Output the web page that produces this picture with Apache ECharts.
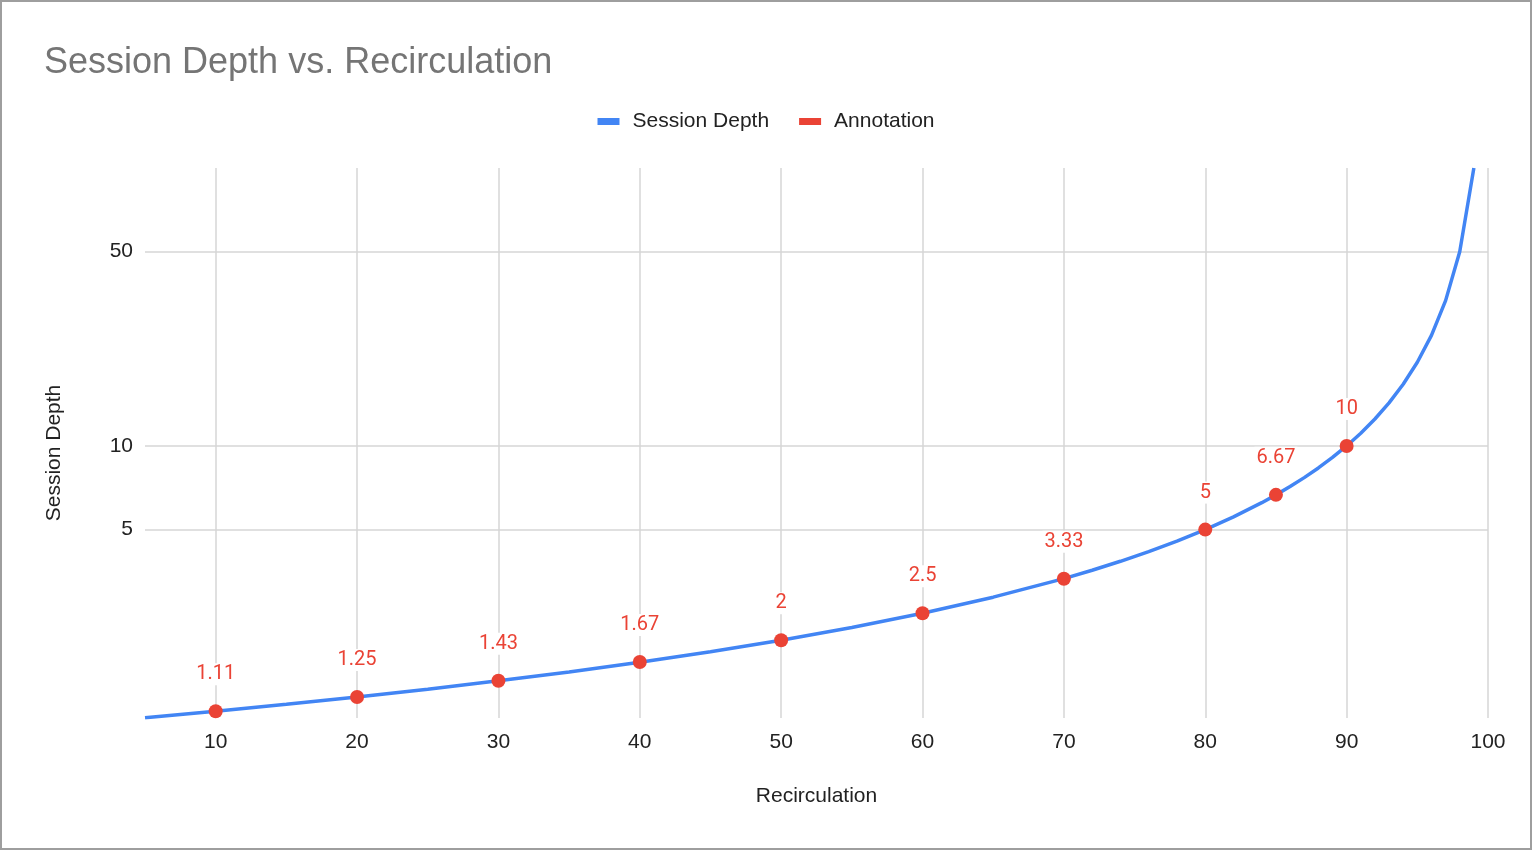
<!DOCTYPE html>
<html>
<head>
<meta charset="utf-8">
<script src="https://cdn.jsdelivr.net/npm/echarts@6/dist/echarts.min.js"></script>
<style>
  html, body { margin: 0; padding: 0; background: #fff; }
  #main { position: absolute; left: 0; top: 0; width: 1532px; height: 850px; }
  #frame { position: absolute; left: 0; top: 0; width: 1532px; height: 850px; box-sizing: border-box; border: 2px solid #9e9e9e; pointer-events: none; }
</style>
</head>
<body>
<div id="main"></div>
<div id="frame"></div>
<script>
// curve points (recirculation %, session depth)
var recirculation = [5, 10, 15, 20, 25, 30, 35, 40, 45, 50, 55, 60, 65, 70, 72, 74, 76, 78, 80, 82, 84, 85, 86, 87, 88, 89, 90, 91, 92, 93, 94, 95, 96, 97, 98, 99];
var sessionDepth = [1.053, 1.111, 1.176, 1.25, 1.333, 1.429, 1.538, 1.667, 1.818, 2, 2.222, 2.5, 2.857, 3.333, 3.571, 3.846, 4.167, 4.545, 5, 5.556, 6.25, 6.667, 7.143, 7.692, 8.333, 9.091, 10, 11.11, 12.5, 14.29, 16.67, 20, 25, 33.33, 50, 100];

// annotated points
var annotX = [10, 20, 30, 40, 50, 60, 70, 80, 85, 90];
var annotY = [1.11, 1.25, 1.43, 1.67, 2, 2.5, 3.33, 5, 6.67, 10];

// tick labels
var xTicks = [10, 20, 30, 40, 50, 60, 70, 80, 90, 100];
var yTicks = [5, 10, 50];

var lineData = [];
for (var i = 0; i < recirculation.length; i++) {
    lineData.push([recirculation[i], sessionDepth[i]]);
}
var annotData = [];
for (var j = 0; j < annotX.length; j++) {
    annotData.push([annotX[j], annotY[j]]);
}

var font = "'Liberation Sans', Arial, sans-serif";
var myChart = echarts.init(document.getElementById('main'));
var options = {
    backgroundColor: '#fff',
    animation: false,
    title: {
        text: 'Session Depth vs. Recirculation',
        left: 39,
        top: 40,
        textStyle: { fontFamily: font, fontSize: 36, fontWeight: 'normal', color: '#757575' }
    },
    legend: {
        top: 106,
        left: 'center',
        itemWidth: 22,
        itemHeight: 7,
        itemGap: 30,
        icon: 'rect',
        textStyle: { fontFamily: font, fontSize: 21, color: '#222', padding: [0, 0, 0, 8] },
        data: ['Session Depth', 'Annotation']
    },
    grid: { left: 145, right: 44, top: 168, bottom: 132 },
    xAxis: {
        type: 'value',
        min: 5,
        max: 100,
        name: 'Recirculation',
        nameLocation: 'middle',
        nameGap: 68,
        nameTextStyle: { fontFamily: font, fontSize: 21, color: '#222' },
        axisLine: { show: false },
        axisTick: { show: false, customValues: xTicks },
        axisLabel: { customValues: xTicks, margin: 14, fontFamily: font, fontSize: 21, color: '#222' },
        splitLine: { show: true, lineStyle: { color: '#d6d6d6', width: 1.5 } }
    },
    yAxis: {
        type: 'log',
        logBase: 10,
        min: 1.05,
        max: 100,
        name: 'Session Depth',
        nameLocation: 'middle',
        nameGap: 80,
        nameTextStyle: { fontFamily: font, fontSize: 21, color: '#222', padding: [0, 20, 0, 0] },
        axisLine: { show: false },
        axisTick: { show: false, customValues: yTicks },
        axisLabel: { customValues: yTicks, margin: 12, fontFamily: font, fontSize: 21, color: '#222' },
        splitLine: { show: true, lineStyle: { color: '#d6d6d6', width: 1.5 } }
    },
    series: [{
        name: 'Session Depth',
        type: 'line',
        data: lineData,
        showSymbol: false,
        symbol: 'none',
        color: '#4285f4',
        lineStyle: { width: 3.5, color: '#4285f4' },
        z: 2
    }, {
        name: 'Annotation',
        type: 'scatter',
        data: annotData,
        symbolSize: 14,
        color: '#ea4335',
        itemStyle: { color: '#ea4335', opacity: 1 },
        label: {
            show: true,
            position: 'top',
            distance: 19,
            formatter: function (p) { return p.value[1]; },
            fontFamily: 'Roboto, sans-serif',
            fontSize: 20,
            color: '#ea4335',
            backgroundColor: '#fff',
            padding: [1, 2]
        },
        z: 3
    }]
};
myChart.setOption(options);
</script>
</body>
</html>
